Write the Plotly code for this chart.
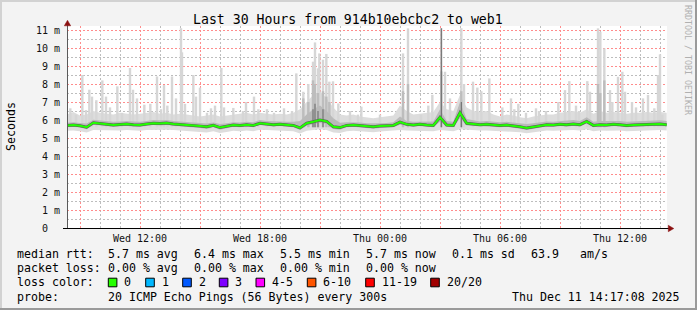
import pandas as pd
import plotly.graph_objects as go

# ---------------- data ----------------
DAY0 = pd.Timestamp("2025-12-10 00:00")          # Wed 00:00
sample_times = pd.date_range("2025-12-10 08:20", periods=91, freq="20min")

median_ms = [5.70, 5.72, 5.68, 5.60, 5.85, 5.80, 5.75, 5.72, 5.75, 5.78,
             5.74, 5.72, 5.78, 5.82, 5.80, 5.83, 5.78, 5.76, 5.72, 5.70,
             5.66, 5.62, 5.70, 5.58, 5.66, 5.72, 5.70, 5.74, 5.70, 5.82,
             5.78, 5.74, 5.76, 5.72, 5.70, 5.56, 5.82, 5.90, 6.00, 5.92,
             5.62, 5.58, 5.70, 5.72, 5.70, 5.66, 5.62, 5.66, 5.68, 5.70,
             5.88, 5.76, 5.72, 5.76, 5.72, 5.70, 6.15, 5.72, 5.70, 6.40,
             5.82, 5.78, 5.74, 5.76, 5.72, 5.70, 5.72, 5.68, 5.62, 5.55,
             5.62, 5.70, 5.74, 5.72, 5.76, 5.74, 5.78, 5.74, 5.92, 5.70,
             5.74, 5.72, 5.76, 5.74, 5.70, 5.72, 5.74, 5.78, 5.76, 5.78,
             5.74]
rtt_min_ms = [5.40, 5.42, 5.38, 5.30, 5.45, 5.44, 5.42, 5.40, 5.42, 5.44,
              5.42, 5.40, 5.44, 5.46, 5.45, 5.46, 5.44, 5.42, 5.40, 5.38,
              5.34, 5.30, 5.38, 5.28, 5.34, 5.40, 5.38, 5.42, 5.38, 5.46,
              5.44, 5.42, 5.42, 5.40, 5.38, 5.25, 5.40, 5.45, 5.48, 5.45,
              5.30, 5.28, 5.38, 5.40, 5.38, 5.36, 5.32, 5.36, 5.38, 5.40,
              5.45, 5.42, 5.40, 5.42, 5.40, 5.38, 5.45, 5.40, 5.38, 5.48,
              5.45, 5.44, 5.42, 5.42, 5.40, 5.38, 5.40, 5.36, 5.32, 5.26,
              5.32, 5.38, 5.42, 5.40, 5.42, 5.42, 5.44, 5.42, 5.48, 5.38,
              5.42, 5.40, 5.42, 5.42, 5.38, 5.40, 5.42, 5.44, 5.42, 5.44,
              5.42]
rtt_q1_ms = [5.60, 5.62, 5.58, 5.48, 5.74, 5.70, 5.65, 5.62, 5.65, 5.68,
             5.64, 5.62, 5.68, 5.72, 5.70, 5.72, 5.68, 5.66, 5.62, 5.60,
             5.56, 5.50, 5.60, 5.46, 5.55, 5.62, 5.60, 5.64, 5.60, 5.72,
             5.68, 5.64, 5.66, 5.62, 5.60, 5.44, 5.68, 5.76, 5.84, 5.78,
             5.50, 5.46, 5.60, 5.62, 5.60, 5.56, 5.52, 5.56, 5.58, 5.60,
             5.74, 5.66, 5.62, 5.66, 5.62, 5.60, 5.90, 5.62, 5.60, 6.10,
             5.70, 5.68, 5.64, 5.66, 5.62, 5.60, 5.62, 5.58, 5.52, 5.44,
             5.52, 5.60, 5.64, 5.62, 5.66, 5.64, 5.68, 5.64, 5.80, 5.60,
             5.64, 5.62, 5.66, 5.64, 5.60, 5.62, 5.64, 5.68, 5.66, 5.68,
             5.64]
rtt_q3_ms = [5.85, 5.88, 5.84, 5.80, 6.02, 5.98, 5.92, 5.90, 5.92, 5.95,
             5.92, 5.90, 5.95, 6.00, 5.98, 6.00, 5.95, 5.92, 5.88, 5.86,
             5.82, 5.80, 5.86, 5.78, 5.82, 5.88, 5.86, 5.90, 5.88, 6.00,
             5.95, 5.92, 5.92, 5.90, 5.90, 5.95, 6.30, 6.60, 6.80, 6.50,
             6.10, 5.85, 5.88, 5.88, 5.86, 5.82, 5.80, 5.82, 5.84, 5.88,
             6.20, 5.95, 5.90, 5.92, 5.90, 5.92, 6.60, 5.95, 5.90, 7.00,
             6.05, 5.98, 5.92, 5.94, 5.90, 5.88, 5.90, 5.86, 5.82, 5.78,
             5.82, 5.88, 5.92, 5.90, 5.94, 5.95, 6.00, 5.95, 6.15, 5.90,
             5.95, 5.94, 5.96, 5.94, 5.90, 5.92, 5.94, 5.98, 5.96, 5.98,
             5.94]
rtt_hi_ms = [6.30, 6.45, 6.25, 6.30, 6.50, 6.40, 6.35, 6.30, 6.40, 6.35,
             6.30, 6.35, 6.40, 6.45, 6.35, 6.40, 6.30, 6.35, 6.30, 6.25,
             6.20, 6.25, 6.30, 6.20, 6.25, 6.30, 6.35, 6.40, 6.30, 6.40,
             6.35, 6.30, 6.35, 6.30, 6.40, 6.60, 7.00, 7.40, 7.60, 7.20,
             6.70, 6.30, 6.25, 6.30, 6.20, 6.15, 6.10, 6.15, 6.20, 6.25,
             6.80, 6.50, 6.30, 6.35, 6.40, 6.45, 7.00, 6.60, 6.50, 7.40,
             6.70, 6.50, 6.45, 6.50, 6.30, 6.20, 6.30, 6.25, 6.15, 6.10,
             6.20, 6.25, 6.30, 6.30, 6.40, 6.45, 6.50, 6.40, 6.60, 6.35,
             6.50, 6.40, 6.45, 6.40, 6.35, 6.40, 6.40, 6.45, 6.40, 6.45,
             6.40]

# single slow pings (minutes after Wed 00:00, seconds in ms)
spike_minutes = [511, 528, 547, 558, 568, 576, 589, 607, 618, 630, 652, 666, 690, 699, 711,
                 733, 751, 771, 783, 792, 802, 816, 828, 843, 846, 855, 880, 888, 900, 921,
                 933, 945, 964, 972, 1000, 1029, 1038, 1062, 1075, 1101, 1122, 1152, 1176, 1189,
                 1210, 1225, 1239, 1245, 1254, 1258, 1269, 1279, 1288, 1299, 1315, 1350, 1374,
                 1384, 1440, 1509, 1524, 1563, 1585, 1597, 1624, 1635, 1650, 1684, 1692, 1719,
                 1732, 1744, 1768, 1807, 1833, 1843, 1855, 1878, 1908, 1917, 1938, 1975, 1995,
                 2008, 2028, 2037, 2062, 2070, 2094, 2101, 2113, 2130, 2137, 2154, 2167, 2175,
                 2196, 2208, 2229, 2244, 2263, 2274, 2280, 2287]
spike_max_ms = [6.65, 6.3, 8.5, 6.55, 7.68, 7.3, 7.1, 8.2, 7.3, 6.7, 7.87, 6.4, 8.89, 7.68, 7.2,
                6.85, 6.9, 8.42, 6.6, 7.94, 6.8, 8.42, 7.2, 11.1, 9.76, 6.9, 8.5, 7.3, 7.8, 6.4,
                6.65, 6.8, 8.89, 6.7, 6.67, 6.5, 7.0, 7.3, 6.6, 6.6, 6.4, 6.65, 6.5, 8.59,
                7.57, 8.0, 9.24, 10.31, 8.87, 9.7, 9.35, 9.67, 8.13, 8.15, 6.92, 6.5, 6.3,
                6.74, 6.3, 9.7, 11.09, 6.3, 6.8, 7.4, 11.1, 8.68, 7.2, 11.1, 8.0, 8.13,
                7.8, 7.6, 8.31, 6.7, 7.2, 6.6, 6.9, 6.4, 6.65, 6.5, 6.5, 7.0, 7.66,
                8.16, 6.8, 6.5, 8.16, 7.57, 11.09, 10.9, 9.98, 7.66, 7.0, 8.4, 8.68, 7.57,
                7.0, 6.7, 7.2, 7.39, 6.65, 8.5, 9.65, 6.3]
dense_minutes = [1210, 1225, 1239, 1245, 1254, 1269, 1279, 1288, 1509, 1524, 1624, 1684, 2094, 2101, 2113]
dense_top_ms = [7.2, 7.0, 8.2, 8.0, 7.5, 7.6, 7.3, 7.0, 7.6, 8.0, 8.7, 7.6, 8.0, 7.5, 8.2]
core_minutes = [1239, 1245, 1254, 1269, 1624, 1684]
core_top_ms = [6.6, 6.9, 6.5, 6.6, 11.1, 7.0]

x_tick_minutes = [540, 720, 900, 1080, 1260, 1440, 1620, 1800, 1980, 2160]
x_tick_labels = ["", "Wed 12:00", "", "Wed 18:00", "", "Thu 00:00", "", "Thu 06:00", "", "Thu 12:00"]
x_minor_minutes = [m for m in range(540, 2301, 60) if m % 180 != 0]
y_tick_values = list(range(12))
y_tick_labels = ["0\u00a0\u00a0"] + [f"{v} m" for v in range(1, 12)]
y_minor_values = [v + 0.5 for v in range(11)]

title_text = "Last 30 Hours from 914b10ebcbc2 to web1"
rtt_stats = ["5.7 ms avg", "6.4 ms max", "5.5 ms min", "5.7 ms now", "0.1 ms sd"]
rtt_extra = ["63.9", "am/s"]
loss_stats = ["0.00 % avg", "0.00 % max", "0.00 % min", "0.00 % now"]
loss_labels = ["0", "1", "2", "3", "4-5", "6-10", "11-19", "20/20"]
loss_colors = ["#26ff00", "#00b8ff", "#0059ff", "#7e00ff", "#ff00ff", "#ff5500", "#ff0000", "#a10000"]
probe_text = "20 ICMP Echo Pings (56 Bytes) every 300s"
stamp_text = "Thu Dec 11 14:17:08 2025"

# ---------------- geometry ----------------
W, H = 697, 310
L, R, T, B = 67, 30, 26, 82
PW, PH = W - L - R, H - T - B


def X(px):
    return (px - L) / PW


def Y(py):
    return (H - B - py) / PH


MONO = "DejaVu Sans Mono"
SPIKE_BASE = 5.6


def at(m):
    return (DAY0 + pd.Timedelta(minutes=m)).strftime("%Y-%m-%d %H:%M:%S")


def segments(mins, tops, base):
    xs, ys = [], []
    for m, v in zip(mins, tops):
        t = at(m)
        xs += [t, t, None]
        ys += [base, v, None]
    return xs, ys


fig = go.Figure()
common = dict(hoverinfo="skip", showlegend=False)
fig.add_trace(go.Scatter(x=sample_times, y=rtt_min_ms, mode="lines", line=dict(width=0), **common))
fig.add_trace(go.Scatter(x=sample_times, y=rtt_hi_ms, mode="lines", line=dict(width=0),
                         fill="tonexty", fillcolor="#dddddd", **common))
sx, sy = segments(spike_minutes, spike_max_ms, SPIKE_BASE)
fig.add_trace(go.Scatter(x=sx, y=sy, mode="lines", line=dict(color="#d6d6d6", width=2.4), **common))
dx, dy = segments(dense_minutes, dense_top_ms, SPIKE_BASE)
fig.add_trace(go.Scatter(x=dx, y=dy, mode="lines", line=dict(color="#bdbdbd", width=2.4), **common))
fig.add_trace(go.Scatter(x=sample_times, y=rtt_q1_ms, mode="lines", line=dict(width=0), **common))
fig.add_trace(go.Scatter(x=sample_times, y=rtt_q3_ms, mode="lines", line=dict(width=0),
                         fill="tonexty", fillcolor="#bababa", **common))
cx, cy = segments(core_minutes, core_top_ms, SPIKE_BASE)
fig.add_trace(go.Scatter(x=cx, y=cy, mode="lines", line=dict(color="#6e6e6e", width=1.1), **common))
fig.add_trace(go.Scatter(x=sample_times, y=median_ms, mode="lines",
                         line=dict(color="#5a5a5a", width=3.0), **common))
fig.add_trace(go.Scatter(x=sample_times, y=median_ms, mode="lines",
                         line=dict(color="#22ff00", width=2), **common))

RED_GRID = "#ff8c8c"
GRAY_GRID = "#bdbdbd"
DOTS = "2px,2px"

fig.update_xaxes(
    range=[at(501), at(2301)],
    tickmode="array", tickvals=[at(m) for m in x_tick_minutes], ticktext=x_tick_labels,
    showgrid=True, gridcolor=RED_GRID, griddash=DOTS, gridwidth=1,
    ticks="", ticklabelstandoff=3,
    tickfont=dict(family=MONO, size=10, color="#111"),
    minor=dict(tickmode="array", tickvals=[at(m) for m in x_minor_minutes], showgrid=True,
               gridcolor=GRAY_GRID, griddash=DOTS, gridwidth=1, ticks=""),
    showline=False, zeroline=False, fixedrange=True,
)
fig.update_yaxes(
    range=[0, PH / 18.0],
    tickmode="array", tickvals=y_tick_values, ticktext=y_tick_labels,
    showgrid=True, gridcolor=RED_GRID, griddash=DOTS, gridwidth=1,
    ticks="", ticklabelstandoff=6,
    tickfont=dict(family=MONO, size=10, color="#111"),
    minor=dict(tickmode="array", tickvals=y_minor_values, showgrid=True,
               gridcolor=GRAY_GRID, griddash=DOTS, gridwidth=1, ticks=""),
    showline=False, zeroline=False, fixedrange=True,
)

shapes = []
# frame shading
shapes.append(dict(type="line", xref="paper", yref="paper", x0=X(0), x1=X(W), y0=Y(1), y1=Y(1),
                   line=dict(color="#d2d2d2", width=2)))
shapes.append(dict(type="line", xref="paper", yref="paper", x0=X(1), x1=X(1), y0=Y(0), y1=Y(H),
                   line=dict(color="#d2d2d2", width=2)))
shapes.append(dict(type="line", xref="paper", yref="paper", x0=X(0), x1=X(W), y0=Y(H - 1), y1=Y(H - 1),
                   line=dict(color="#9a9a9a", width=2)))
shapes.append(dict(type="line", xref="paper", yref="paper", x0=X(W - 1), x1=X(W - 1), y0=Y(0), y1=Y(H),
                   line=dict(color="#9a9a9a", width=2)))
# axes with arrows
shapes.append(dict(type="line", xref="paper", yref="paper", x0=X(67.5), x1=X(67.5), y0=Y(229), y1=Y(23),
                   line=dict(color="#5a5a5a", width=1)))
shapes.append(dict(type="line", xref="paper", yref="paper", x0=X(63), x1=X(669), y0=Y(228.5), y1=Y(228.5),
                   line=dict(color="#000000", width=1)))
shapes.append(dict(type="path", xref="paper", yref="paper",
                   path=f"M {X(64.3)},{Y(25.8)} L {X(67.5)},{Y(20.3)} L {X(70.7)},{Y(25.8)} Z",
                   fillcolor="#8b1010", line=dict(color="#8b1010", width=0.5)))
shapes.append(dict(type="path", xref="paper", yref="paper",
                   path=f"M {X(668.3)},{Y(225.3)} L {X(673.8)},{Y(228.5)} L {X(668.3)},{Y(231.7)} Z",
                   fillcolor="#8b1010", line=dict(color="#8b1010", width=0.5)))
# loss colour boxes
sq_left = [108.3, 145.7, 182.7, 219.3, 256.0, 307.3, 365.7, 430.7]
for xl, col in zip(sq_left, loss_colors):
    shapes.append(dict(type="rect", xref="paper", yref="paper", x0=X(xl), x1=X(xl + 8.6),
                       y0=Y(278.2), y1=Y(286.8), fillcolor=col, line=dict(color="#000", width=1)))

annotations = []


def text(s, px, py, size=11.6, xanchor="left", color="#000", angle=0):
    annotations.append(dict(text=s, xref="paper", yref="paper", x=X(px), y=Y(py),
                            xanchor=xanchor, yanchor="middle", showarrow=False, borderpad=0,
                            textangle=angle, font=dict(family=MONO, size=size, color=color)))


text(title_text, 348, 19.5, size=13.2, xanchor="center")
text("Seconds", 11, 127, size=11.6, xanchor="center", angle=-90)
text("RRDTOOL / TOBI OETIKER", 688, 60, size=8.3, xanchor="center", color="#b0b0b0", angle=90)

row_y = [254.2, 268.3, 282.4, 296.6]
text("median rtt:", 16, row_y[0])
for k, s in enumerate(rtt_stats):
    text(s, 107.3 + 86 * k, row_y[0])
text(rtt_extra[0], 530, row_y[0])
text(rtt_extra[1], 579.3, row_y[0])
text("packet loss:", 16, row_y[1])
for k, s in enumerate(loss_stats):
    text(s, 107.3 + 86 * k, row_y[1])
text("loss color:", 16, row_y[2])
for xl, lab in zip(sq_left, loss_labels):
    text(lab, xl + 15, row_y[2])
text("probe:", 16, row_y[3])
text(probe_text, 107.3, row_y[3])
text(stamp_text, 680.5, row_y[3], xanchor="right")

fig.update_layout(
    width=W, height=H, autosize=False,
    margin=dict(l=L, r=R, t=T, b=B, pad=0),
    paper_bgcolor="#f3f3f3", plot_bgcolor="#ffffff",
    shapes=shapes, annotations=annotations, showlegend=False,
)

fig.write_html("out.html", config={"displayModeBar": False, "staticPlot": True})
